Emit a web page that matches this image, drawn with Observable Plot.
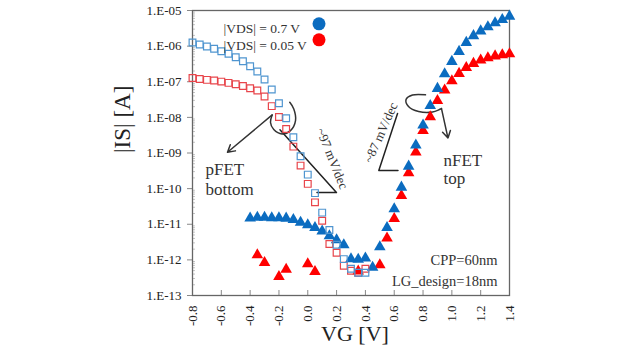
<!DOCTYPE html>
<html><head><meta charset="utf-8">
<script src="https://cdn.jsdelivr.net/npm/d3@7"></script>
<script src="https://cdn.jsdelivr.net/npm/@observablehq/plot@0.6"></script>
<style>
html,body{margin:0;padding:0;background:#fff;}
#chart{width:626px;height:352px;}
svg{font-family:"Liberation Serif","Times New Roman",serif;}
</style></head><body><div id="chart"></div>
<script>
// ---- data ----
const vgSquares = [-0.80,-0.75,-0.70,-0.65,-0.60,-0.55,-0.50,-0.45,-0.40,-0.35,-0.30,-0.25,-0.20,-0.15,-0.10,-0.05,0.00,0.05,0.10,0.15,0.20,0.25,0.30,0.35,0.40];
const isPfetHigh = [1.26e-6,1.11e-6,9.75e-7,8.4e-7,7.2e-7,6.08e-7,4.88e-7,3.77e-7,2.72e-7,1.94e-7,1.15e-7,6.04e-8,2.49e-8,9.4e-9,2.76e-9,8.07e-10,2.47e-10,7.48e-11,2.12e-11,6.92e-12,2.67e-12,1.05e-12,5.66e-13,4.37e-13,4.37e-13];
const isPfetLow = [1.27e-7,1.2e-7,1.13e-7,1.08e-7,1.01e-7,9.3e-8,8.5e-8,7.57e-8,6.56e-8,5.66e-8,3.84e-8,2.07e-8,1.02e-8,4.69e-9,1.51e-9,4.43e-10,1.36e-10,4.12e-11,1.26e-11,2.8e-12,1.58e-12,6.87e-13,4.98e-13,4.37e-13,5.66e-13];

const vgNfetHigh = [-0.40,-0.35,-0.30,-0.25,-0.20,-0.15,-0.10,-0.05,0.00,0.05,0.10,0.15,0.20,0.25,0.30,0.35,0.40,0.45,0.50,0.55,0.60,0.65,0.70,0.75,0.80,0.85,0.90,0.95,1.00,1.05,1.10,1.15,1.20,1.25,1.30,1.35,1.40];
const isNfetHigh = [1.48e-11,1.55e-11,1.55e-11,1.5e-11,1.5e-11,1.47e-11,1.35e-11,1.13e-11,9.55e-12,8.02e-12,6.4e-12,4.69e-12,3.65e-12,2.64e-12,1.06e-12,1.03e-12,1.12e-12,6.15e-13,2.3e-12,8.02e-12,2.69e-11,1.09e-10,4.23e-10,1.67e-9,6.08e-9,2.14e-8,6.44e-8,1.67e-7,3.69e-7,7.05e-7,1.26e-6,1.95e-6,2.65e-6,3.48e-6,4.46e-6,5.52e-6,6.87e-6];

const vgNfetLow = [-0.35,-0.30,-0.20,-0.15,0.00,0.05,0.35,0.50,0.55,0.60,0.65,0.70,0.75,0.80,0.85,0.90,0.95,1.00,1.05,1.10,1.15,1.20,1.25,1.30,1.35,1.40];
const isNfetLow = [1.37e-12,8.34e-13,3.37e-13,5.41e-13,7.67e-13,4.67e-13,4.82e-13,7.19e-13,4.07e-12,1.44e-11,6.35e-11,2.76e-10,1.05e-9,4.26e-9,1.03e-8,2.96e-8,5.77e-8,1.05e-7,1.7e-7,2.47e-7,3.24e-7,4.02e-7,4.69e-7,5.27e-7,5.7e-7,6.08e-7];

const xTicks = [-0.8,-0.6,-0.4,-0.2,0.0,0.2,0.4,0.6,0.8,1.0,1.2,1.4];
const yTicks = [1e-5,1e-6,1e-7,1e-8,1e-9,1e-10,1e-11,1e-12,1e-13];
const yTickLabels = ["1.E-05","1.E-06","1.E-07","1.E-08","1.E-09","1.E-10","1.E-11","1.E-12","1.E-13"];

const legendLabels = ["|VDS| = 0.7 V","|VDS| = 0.05 V"];
const colorHighFill = "#0b6cc0", colorLowFill = "#ff0000";
const colorHighSq = "#4f95d0", colorLowSq = "#e8454b";

// annotations (data coordinates)
const slopeLines = [
  {g:"97",x:-0.193,y:4.46e-9},{g:"97",x:0.199,y:7.73e-11},{g:"97",x:0.064,y:7.73e-11},
  {g:"87",x:0.623,y:1.28e-8},{g:"87",x:0.493,y:3.21e-10},{g:"87",x:0.626,y:3.21e-10}
];
const curls = [
  {g:"p",x:-0.247,y:1.17e-8},{g:"p",x:-0.259,y:7.28e-9},{g:"p",x:-0.236,y:4.54e-9},{g:"p",x:-0.178,y:3.44e-9},
  {g:"p",x:-0.120,y:4.26e-9},{g:"p",x:-0.085,y:8.13e-9},{g:"p",x:-0.097,y:1.73e-8},{g:"p",x:-0.125,y:2.65e-8},
  {g:"n",x:0.817,y:4.29e-8},{g:"n",x:0.727,y:4.23e-8},{g:"n",x:0.682,y:3.16e-8},{g:"n",x:0.699,y:2.01e-8},
  {g:"n",x:0.769,y:1.46e-8},{g:"n",x:0.866,y:1.41e-8},{g:"n",x:0.928,y:1.77e-8}
];
const arrows = [
  {x1:-0.247,y1:1.17e-8,x2:-0.557,y2:1.05e-9},
  {x1:0.928,y1:1.77e-8,x2:0.973,y2:2.62e-9}
];
const notes = [
  {text:"pFET",x:-0.71,y:3.42e-10},{text:"bottom",x:-0.71,y:9.4e-11},
  {text:"nFET",x:0.942,y:6.12e-10},{text:"top",x:0.942,y:1.91e-10}
];
const cornerNotes = [
  {text:"CPP=60nm",x:1.317,y:9.5e-13},{text:"LG_design=18nm",x:1.317,y:2.44e-13}
];
const slopeTexts = [
  {text:"~97 mV/dec",x:0.169,y:6.97e-10,rot:68},
  {text:"~87 mV/dec",x:0.508,y:3.74e-9,rot:-66}
];

const sqHigh = vgSquares.map((v,i)=>({vg:v,is:isPfetHigh[i]}));
const sqLow = vgSquares.map((v,i)=>({vg:v,is:isPfetLow[i]}));
const triHigh = vgNfetHigh.map((v,i)=>({vg:v,is:isNfetHigh[i]}));
const triLow = vgNfetLow.map((v,i)=>({vg:v,is:isNfetLow[i]}));

const yMinor = [];
for (let e=-13;e<-5;e++) for (let m=2;m<10;m++) yMinor.push(m*Math.pow(10,e));

const legendMarks = legendLabels.flatMap((lab,i)=>[
  Plot.text([lab],{frameAnchor:"top-left",dx:31,dy:13+16.5*i,textAnchor:"start",fontSize:13.5,fill:"#333"}),
  Plot.dot([0],{frameAnchor:"top-left",dx:126.5,dy:13.3+16*i,r:6.5,fill:i===0?colorHighFill:colorLowFill,stroke:"none"})
]);

const chart = Plot.plot({
  width:626, height:352,
  marginLeft:192, marginRight:117, marginTop:10, marginBottom:57,
  style:{fontFamily:"Liberation Serif", background:"#fff", overflow:"visible"},
  x:{domain:[-0.8,1.4]},
  y:{type:"log", domain:[1e-13,1e-5]},
  marks:[
    Plot.axisY(yMinor,{tickSize:-3,stroke:"#c4c4c4",tickFormat:()=>"",label:null}),
    Plot.axisY(yTicks,{tickSize:5,tickPadding:6,stroke:"#888",fontSize:13,fill:"#222",label:null,
      tickFormat:d=>yTickLabels[yTicks.indexOf(d)]}),
    Plot.axisX(xTicks,{tickSize:-5,stroke:"#888",tickFormat:()=>"",label:null}),
    Plot.axisX(xTicks,{tickSize:0,tickPadding:10,tickRotate:-90,fontSize:13,fill:"#222",label:null,
      tickFormat:d=>d.toFixed(1)}),
    Plot.frame({stroke:"#666",strokeWidth:1.3}),
    Plot.text(["|IS| [A]"],{frameAnchor:"left",dx:-70,rotate:-90,fontSize:23,fill:"#222"}),
    Plot.text(["VG [V]"],{frameAnchor:"bottom",dx:4,dy:45,fontSize:22,fill:"#222"}),
    Plot.line(slopeLines,{x:"x",y:"y",z:"g",stroke:"#222",strokeWidth:1.5}),
    Plot.line(curls,{x:"x",y:"y",z:"g",stroke:"#333",strokeWidth:1.5,curve:"catmull-rom"}),
    Plot.arrow(arrows,{x1:"x1",y1:"y1",x2:"x2",y2:"y2",stroke:"#333",strokeWidth:1.5,headLength:8}),
    Plot.dot(triLow,{x:"vg",y:"is",symbol:"triangle",r:4.3,fill:colorLowFill,stroke:"none"}),
    Plot.dot(triHigh,{x:"vg",y:"is",symbol:"triangle",r:4.3,fill:colorHighFill,stroke:"none"}),
    Plot.dot(sqLow,{x:"vg",y:"is",symbol:"square",r:3.8,fill:"none",stroke:colorLowSq,strokeWidth:1.2}),
    Plot.dot(sqHigh,{x:"vg",y:"is",symbol:"square",r:3.8,fill:"none",stroke:colorHighSq,strokeWidth:1.2}),
    Plot.text(notes,{x:"x",y:"y",text:"text",textAnchor:"start",fontSize:17,fill:"#333"}),
    Plot.text(cornerNotes,{x:"x",y:"y",text:"text",textAnchor:"end",fontSize:14.5,fill:"#333"}),
    ...slopeTexts.map(s=>Plot.text([s],{x:"x",y:"y",text:"text",rotate:s.rot,fontSize:13,fill:"#333"})),
    ...legendMarks
  ]
});
document.getElementById("chart").appendChild(chart);
</script>
</body></html>
